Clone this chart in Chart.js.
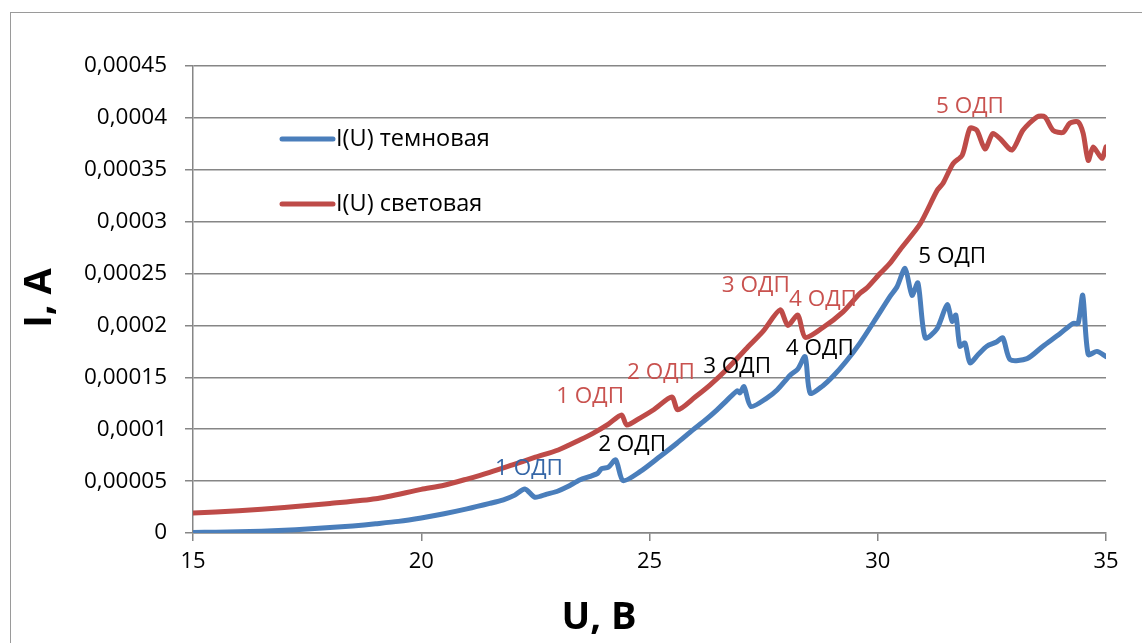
<!DOCTYPE html>
<html lang="ru">
<head>
  <meta charset="UTF-8">
  <title>ВАХ: темновая и световая</title>
  <script src="https://cdn.jsdelivr.net/npm/chart.js"></script>
  <style>
    body { margin: 0; background: #fff; }
    .wrap { position: relative; width: 1142px; height: 643px; overflow: hidden; }
    .frame { position: absolute; left: 10px; top: 12px; width: 1200px; height: 700px;
             border-top: 1.5px solid #9a9a9a; border-left: 1.5px solid #9a9a9a; }
    canvas { position: absolute; left: 0; top: 0; }
  </style>
</head>
<body>
  <div class="wrap">
    <div class="frame"></div>
    <canvas id="ivChart" width="1142" height="643"></canvas>
  </div>

  <script>
    // I(U) темновая
    const darkU = [15, 15.5, 16, 16.5, 17, 17.5, 18, 18.5, 19, 19.5, 20, 20.5, 21, 21.5, 21.8, 22.05, 22.27, 22.49,
      22.75, 22.97, 23.2, 23.48, 23.7, 23.87, 23.95, 24.1, 24.26, 24.42, 24.8, 25.23, 25.6, 25.95, 26.2, 26.48,
      26.7, 26.92, 26.98, 27.07, 27.22, 27.57, 27.8, 28.08, 28.25, 28.41, 28.52, 28.8, 29.02, 29.3, 29.61, 29.98,
      30.27, 30.42, 30.6, 30.75, 30.88, 31.04, 31.3, 31.52, 31.63, 31.71, 31.8, 31.91, 32.02, 32.2, 32.39, 32.6,
      32.74, 32.9, 33.27, 33.62, 33.99, 34.28, 34.39, 34.49, 34.61, 34.8, 35];
    const darkI = [0.0000005, 0.0000008, 0.0000012, 0.0000018, 0.0000027, 0.0000038, 0.0000052, 0.0000068,
      0.0000089, 0.0000112, 0.0000145, 0.0000185, 0.0000232, 0.0000285, 0.000032, 0.0000365, 0.0000425, 0.0000345,
      0.0000375, 0.00004, 0.0000445, 0.0000513, 0.0000545, 0.0000577, 0.000062, 0.0000635, 0.0000705, 0.0000505,
      0.0000593, 0.0000737, 0.0000865, 0.0000994, 0.000108, 0.0001187, 0.000128, 0.000137, 0.000135, 0.000141,
      0.000122, 0.00013, 0.000138, 0.000152, 0.000158, 0.00017, 0.0001347, 0.000142, 0.000151, 0.000165, 0.000183,
      0.000208, 0.000228, 0.000237, 0.000255, 0.000229, 0.000241, 0.000188, 0.000197, 0.00022, 0.000204, 0.00021,
      0.00018, 0.000183, 0.000164, 0.000172, 0.00018, 0.000184, 0.000188, 0.000167, 0.000168, 0.00018, 0.000192,
      0.000202, 0.000202, 0.000229, 0.000172, 0.000175, 0.00017];

    // I(U) световая
    const lightU = [15, 16, 17, 18, 19, 20, 20.5, 21, 21.5, 22, 22.5, 23, 23.48, 23.76, 24.1, 24.39, 24.5, 24.8,
      25.1, 25.49, 25.62, 26.0, 26.33, 26.7, 27.13, 27.5, 27.86, 28.03, 28.25, 28.41, 28.8, 29.24, 29.61, 29.76,
      30.05, 30.27, 30.49, 30.93, 31.3, 31.43, 31.65, 31.85, 32.02, 32.17, 32.35, 32.52, 32.68, 32.94, 33.18,
      33.49, 33.66, 33.84, 34.06, 34.21, 34.39, 34.5, 34.61, 34.72, 34.91, 35];
    const lightI = [0.0000192, 0.0000215, 0.0000245, 0.0000285, 0.000033, 0.000042, 0.000046, 0.000052, 0.0000585,
      0.0000657, 0.000073, 0.00008, 0.0000898, 0.000096, 0.000105, 0.0001138, 0.000104, 0.000111, 0.000119,
      0.000131, 0.0001187, 0.000131, 0.0001427, 0.000158, 0.000178, 0.000195, 0.000215, 0.0002, 0.00021,
      0.0001886, 0.000198, 0.000213, 0.000231, 0.000236, 0.00025, 0.00026, 0.000273, 0.000298, 0.00033, 0.000337,
      0.000356, 0.000364, 0.00039, 0.000388, 0.00037, 0.000385, 0.00038, 0.000369, 0.000388, 0.000401, 0.000401,
      0.000388, 0.000386, 0.000395, 0.000396, 0.000385, 0.000359, 0.000372, 0.000361, 0.000372];

    const seriesNames = ['I(U) темновая', 'I(U) световая'];
    const seriesColors = ['#4a7ebb', '#be4b48'];

    // подписи областей отрицательного дифференциального сопротивления
    const odpText = ['1 ОДП', '2 ОДП', '3 ОДП', '4 ОДП', '5 ОДП'];
    const darkOdpU = [22.36, 24.62, 26.92, 28.73, 31.63];
    const darkOdpI = [0.0000619, 0.000085, 0.00016, 0.000178, 0.000266];
    const darkOdpColors = ['#3566a6', '#000', '#000', '#000', '#000'];
    const lightOdpU = [23.7, 25.25, 27.33, 28.8, 32.02];
    const lightOdpI = [0.000131, 0.000155, 0.000238, 0.000225, 0.000411];

    const yTicks = [0, 0.00005, 0.0001, 0.00015, 0.0002, 0.00025, 0.0003, 0.00035, 0.0004, 0.00045];

    const toPoints = (us, is) => us.map((u, k) => ({ x: u, y: is[k] }));
    const fmt = v => String(Number(v.toFixed(6))).replace('.', ',');

    const FONT = '"Open Sans", sans-serif';

    // подписи осей, легенда и подписи ОДП
    const annotations = {
      id: 'annotations',
      afterDatasetsDraw(chart) {
        const ctx = chart.ctx;
        const xs = chart.scales.x, ys = chart.scales.y;
        ctx.save();
        ctx.textAlign = 'center';
        ctx.textBaseline = 'middle';
        ctx.font = '22.5px ' + FONT;
        odpText.forEach((t, k) => {
          ctx.fillStyle = darkOdpColors[k];
          ctx.fillText(t, xs.getPixelForValue(darkOdpU[k]), ys.getPixelForValue(darkOdpI[k]));
          ctx.fillStyle = '#c9524f';
          ctx.fillText(t, xs.getPixelForValue(lightOdpU[k]), ys.getPixelForValue(lightOdpI[k]));
        });

        // легенда
        ctx.font = '23.5px ' + FONT;
        ctx.textAlign = 'left';
        ctx.lineCap = 'round';
        ctx.lineWidth = 5;
        [139, 204].forEach((y, k) => {
          ctx.strokeStyle = seriesColors[k];
          ctx.beginPath();
          ctx.moveTo(282, y);
          ctx.lineTo(333, y);
          ctx.stroke();
          ctx.fillStyle = '#000';
          ctx.fillText(seriesNames[k], 336, y);
        });

        // названия осей
        ctx.font = 'bold 38px ' + FONT;
        ctx.textAlign = 'center';
        ctx.fillText('U, B', 599, 618);
        ctx.translate(40, 298);
        ctx.rotate(-Math.PI / 2);
        ctx.fillText('I, A', 0, 0);
        ctx.restore();
      }
    };

    new Chart(document.getElementById('ivChart'), {
      type: 'scatter',
      data: {
        datasets: [
          { label: seriesNames[0], data: toPoints(darkU, darkI), borderColor: seriesColors[0] },
          { label: seriesNames[1], data: toPoints(lightU, lightI), borderColor: seriesColors[1] }
        ]
      },
      options: {
        responsive: false,
        animation: false,
        layout: { padding: { top: 66, right: 36, bottom: 0, left: 0 } },
        elements: {
          line: { borderWidth: 5, tension: 0.25, borderCapStyle: 'round', borderJoinStyle: 'round' },
          point: { radius: 0, hoverRadius: 0 }
        },
        datasets: { scatter: { showLine: true } },
        plugins: { legend: { display: false }, tooltip: { enabled: false } },
        scales: {
          x: {
            type: 'linear',
            min: 15, max: 35,
            afterFit: s => { s.height = 110; },
            border: { color: '#868686', width: 1.5 },
            grid: { drawOnChartArea: false, drawTicks: true, tickLength: 8, color: '#868686', lineWidth: 1.5 },
            ticks: { stepSize: 5, padding: 8, color: '#000', font: { family: FONT, size: 22 } }
          },
          y: {
            min: 0, max: 0.00045,
            afterFit: s => { s.width = 193; },
            afterBuildTicks: s => { s.ticks = yTicks.map(v => ({ value: v })); },
            border: { color: '#868686', width: 1.5 },
            grid: { color: '#868686', lineWidth: 1.5, tickLength: 8 },
            ticks: { padding: 18, color: '#000', font: { family: FONT, size: 22.5 }, callback: v => fmt(v) }
          }
        }
      },
      plugins: [annotations]
    });
  </script>
</body>
</html>
